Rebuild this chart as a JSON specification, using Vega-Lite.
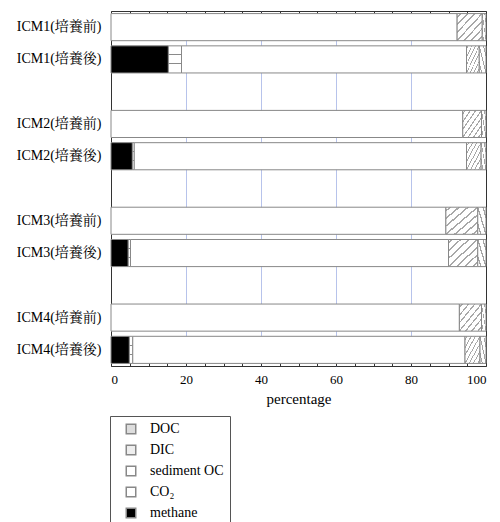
{
  "$schema": "https://vega.github.io/schema/vega-lite/v6.json",
  "width": 375,
  "height": 355,
  "autosize": "none",
  "padding": {"left": 111, "top": 11, "right": 14, "bottom": 156},
  "background": "white",
  "config": {"font": "Liberation Serif, Times New Roman, DejaVu Serif, serif", "view": {"stroke": "#333", "strokeWidth": 1}},
  "data": {
    "values": [
      {"sample": "ICM1(培養前)", "comp": "sediment OC", "ord": 3, "value": 92.3},
      {"sample": "ICM1(培養前)", "comp": "DIC", "ord": 4, "value": 6.7},
      {"sample": "ICM1(培養前)", "comp": "DOC", "ord": 5, "value": 1.0},
      {"sample": "ICM1(培養後)", "comp": "methane", "ord": 1, "value": 15.3},
      {"sample": "ICM1(培養後)", "comp": "CO₂", "ord": 2, "value": 3.5},
      {"sample": "ICM1(培養後)", "comp": "sediment OC", "ord": 3, "value": 76.0},
      {"sample": "ICM1(培養後)", "comp": "DIC", "ord": 4, "value": 3.4},
      {"sample": "ICM1(培養後)", "comp": "DOC", "ord": 5, "value": 1.8},
      {"sample": "ICM2(培養前)", "comp": "sediment OC", "ord": 3, "value": 93.8},
      {"sample": "ICM2(培養前)", "comp": "DIC", "ord": 4, "value": 5.0},
      {"sample": "ICM2(培養前)", "comp": "DOC", "ord": 5, "value": 1.2},
      {"sample": "ICM2(培養後)", "comp": "methane", "ord": 1, "value": 5.7},
      {"sample": "ICM2(培養後)", "comp": "CO₂", "ord": 2, "value": 0.5},
      {"sample": "ICM2(培養後)", "comp": "sediment OC", "ord": 3, "value": 88.6},
      {"sample": "ICM2(培養後)", "comp": "DIC", "ord": 4, "value": 3.9},
      {"sample": "ICM2(培養後)", "comp": "DOC", "ord": 5, "value": 1.3},
      {"sample": "ICM3(培養前)", "comp": "sediment OC", "ord": 3, "value": 89.3},
      {"sample": "ICM3(培養前)", "comp": "DIC", "ord": 4, "value": 8.5},
      {"sample": "ICM3(培養前)", "comp": "DOC", "ord": 5, "value": 2.2},
      {"sample": "ICM3(培養後)", "comp": "methane", "ord": 1, "value": 4.6},
      {"sample": "ICM3(培養後)", "comp": "CO₂", "ord": 2, "value": 0.6},
      {"sample": "ICM3(培養後)", "comp": "sediment OC", "ord": 3, "value": 84.8},
      {"sample": "ICM3(培養後)", "comp": "DIC", "ord": 4, "value": 7.8},
      {"sample": "ICM3(培養後)", "comp": "DOC", "ord": 5, "value": 2.2},
      {"sample": "ICM4(培養前)", "comp": "sediment OC", "ord": 3, "value": 92.9},
      {"sample": "ICM4(培養前)", "comp": "DIC", "ord": 4, "value": 5.9},
      {"sample": "ICM4(培養前)", "comp": "DOC", "ord": 5, "value": 1.2},
      {"sample": "ICM4(培養後)", "comp": "methane", "ord": 1, "value": 4.9},
      {"sample": "ICM4(培養後)", "comp": "CO₂", "ord": 2, "value": 0.9},
      {"sample": "ICM4(培養後)", "comp": "sediment OC", "ord": 3, "value": 88.6},
      {"sample": "ICM4(培養後)", "comp": "DIC", "ord": 4, "value": 4.0},
      {"sample": "ICM4(培養後)", "comp": "DOC", "ord": 5, "value": 1.6}
    ]
  },
  "layer": [
    {
      "mark": {"type": "bar", "stroke": "#888", "strokeWidth": 1},
      "encoding": {
        "y": {
          "field": "sample",
          "type": "nominal",
          "scale": {
            "domain": ["ICM1(培養前)", "ICM1(培養後)", "gap1", "ICM2(培養前)", "ICM2(培養後)", "gap2", "ICM3(培養前)", "ICM3(培養後)", "gap3", "ICM4(培養前)", "ICM4(培養後)"],
            "paddingInner": 0.16,
            "paddingOuter": 0.08
          },
          "axis": {
            "title": null,
            "ticks": false,
            "domain": false,
            "labelFont": "Liberation Serif, Times New Roman, Noto Serif CJK JP, Noto Sans CJK JP, serif",
            "labelFontSize": 14,
            "labelColor": "black",
            "labelPadding": 10,
            "labelExpr": "indexof(datum.label, 'ICM') === 0 ? datum.label : ''"
          }
        },
        "x": {
          "field": "value",
          "type": "quantitative",
          "stack": "zero",
          "scale": {"domain": [0, 100], "nice": false},
          "axis": {
            "orient": "bottom",
            "values": [0, 5, 10, 15, 20, 25, 30, 35, 40, 45, 50, 55, 60, 65, 70, 75, 80, 85, 90, 95, 100],
            "labelExpr": "datum.value % 20 === 0 ? datum.label : ''",
            "tickSize": -4,
            "tickColor": "#333",
            "domain": false,
            "grid": false,
            "labelFontSize": 13,
            "labelColor": "black",
            "labelPadding": 11,
            "title": "percentage",
            "titleFontSize": 15,
            "titleFontWeight": "normal",
            "titleColor": "black",
            "titlePadding": 5
          }
        },
        "order": {"field": "ord", "type": "quantitative"},
        "fill": {
          "field": "comp",
          "type": "nominal",
          "scale": {
            "domain": ["DOC", "DIC", "sediment OC", "CO₂", "methane"],
            "range": ["#dddddd", "#eeeeee", "#ffffff", "#ffffff", "#000000"]
          },
          "condition": [
            {"test": "datum.comp === 'DIC'", "value": {"gradient": "linear", "x1": 0, "y1": 0, "x2": 1, "y2": 1, "stops": [
              {"offset": 0, "color": "#ffffff"},
              {"offset": 0.05, "color": "#ffffff"}, {"offset": 0.05, "color": "#a8a8a8"}, {"offset": 0.085, "color": "#a8a8a8"}, {"offset": 0.085, "color": "#ffffff"},
              {"offset": 0.19, "color": "#ffffff"}, {"offset": 0.19, "color": "#a8a8a8"}, {"offset": 0.225, "color": "#a8a8a8"}, {"offset": 0.225, "color": "#ffffff"},
              {"offset": 0.33, "color": "#ffffff"}, {"offset": 0.33, "color": "#a8a8a8"}, {"offset": 0.365, "color": "#a8a8a8"}, {"offset": 0.365, "color": "#ffffff"},
              {"offset": 0.48, "color": "#ffffff"}, {"offset": 0.48, "color": "#a8a8a8"}, {"offset": 0.515, "color": "#a8a8a8"}, {"offset": 0.515, "color": "#ffffff"},
              {"offset": 0.62, "color": "#ffffff"}, {"offset": 0.62, "color": "#a8a8a8"}, {"offset": 0.655, "color": "#a8a8a8"}, {"offset": 0.655, "color": "#ffffff"},
              {"offset": 0.76, "color": "#ffffff"}, {"offset": 0.76, "color": "#a8a8a8"}, {"offset": 0.795, "color": "#a8a8a8"}, {"offset": 0.795, "color": "#ffffff"},
              {"offset": 0.90, "color": "#ffffff"}, {"offset": 0.90, "color": "#a8a8a8"}, {"offset": 0.935, "color": "#a8a8a8"}, {"offset": 0.935, "color": "#ffffff"},
              {"offset": 1, "color": "#ffffff"}
            ]}},
            {"test": "datum.comp === 'DOC'", "value": {"gradient": "linear", "x1": 0, "y1": 1, "x2": 1, "y2": 0, "stops": [
              {"offset": 0, "color": "#ffffff"},
              {"offset": 0.15, "color": "#ffffff"}, {"offset": 0.15, "color": "#a5a5a5"}, {"offset": 0.23, "color": "#a5a5a5"}, {"offset": 0.23, "color": "#ffffff"},
              {"offset": 0.46, "color": "#ffffff"}, {"offset": 0.46, "color": "#a5a5a5"}, {"offset": 0.54, "color": "#a5a5a5"}, {"offset": 0.54, "color": "#ffffff"},
              {"offset": 0.77, "color": "#ffffff"}, {"offset": 0.77, "color": "#a5a5a5"}, {"offset": 0.85, "color": "#a5a5a5"}, {"offset": 0.85, "color": "#ffffff"},
              {"offset": 1, "color": "#ffffff"}
            ]}},
            {"test": "datum.comp === 'CO₂'", "value": {"gradient": "linear", "x1": 0, "y1": 0, "x2": 0, "y2": 1, "stops": [
              {"offset": 0, "color": "#ffffff"},
              {"offset": 0.31, "color": "#ffffff"}, {"offset": 0.31, "color": "#8a8a8a"}, {"offset": 0.35, "color": "#8a8a8a"}, {"offset": 0.35, "color": "#ffffff"},
              {"offset": 0.64, "color": "#ffffff"}, {"offset": 0.64, "color": "#8a8a8a"}, {"offset": 0.68, "color": "#8a8a8a"}, {"offset": 0.68, "color": "#ffffff"},
              {"offset": 1, "color": "#ffffff"}
            ]}}
          ],
          "legend": {
            "orient": "none",
            "legendX": -1,
            "legendY": 405,
            "title": null,
            "strokeColor": "#555",
            "fillColor": "white",
            "padding": 6,
            "symbolType": "square",
            "symbolSize": 90,
            "symbolOffset": 8,
            "symbolOpacity": 1,
            "labelFont": "Liberation Serif, Times New Roman, DejaVu Serif, serif",
            "labelFontSize": 14,
            "labelColor": "black",
            "labelOffset": 12,
            "rowPadding": 5,
            "labelExpr": "datum.label + '\u2003\u2003'",
            "encode": {
              "symbols": {
                "fill": {
                  "condition": [
                    {"test": "datum.value === 'DIC'", "value": {"gradient": "linear", "x1": 0, "y1": 0, "x2": 1, "y2": 1, "stops": [
                      {"offset": 0, "color": "#ffffff"}, {"offset": 0.44, "color": "#ffffff"}, {"offset": 0.44, "color": "#999999"}, {"offset": 0.56, "color": "#999999"}, {"offset": 0.56, "color": "#ffffff"}, {"offset": 1, "color": "#ffffff"}
                    ]}},
                    {"test": "datum.value === 'DOC'", "value": {"gradient": "linear", "x1": 0, "y1": 1, "x2": 1, "y2": 0, "stops": [
                      {"offset": 0, "color": "#ffffff"}, {"offset": 0.42, "color": "#ffffff"}, {"offset": 0.42, "color": "#aaaaaa"}, {"offset": 0.58, "color": "#aaaaaa"}, {"offset": 0.58, "color": "#ffffff"}, {"offset": 1, "color": "#ffffff"}
                    ]}},
                    {"test": "datum.value === 'CO₂'", "value": {"gradient": "linear", "x1": 0, "y1": 0, "x2": 0, "y2": 1, "stops": [
                      {"offset": 0, "color": "#ffffff"}, {"offset": 0.45, "color": "#ffffff"}, {"offset": 0.45, "color": "#888888"}, {"offset": 0.55, "color": "#888888"}, {"offset": 0.55, "color": "#ffffff"}, {"offset": 1, "color": "#ffffff"}
                    ]}},
                    {"test": "datum.value === 'methane'", "value": "#000000"}
                  ],
                  "value": "#ffffff"
                },
                "stroke": {"value": "#777777"},
                "strokeWidth": {"value": 1}
              }
            }
          }
        }
      }
    },
    {
      "mark": {"type": "rule", "opacity": 0},
      "encoding": {
        "y": {"field": "sample", "type": "nominal"},
        "x": {
          "field": "value",
          "type": "quantitative",
          "axis": {
            "orient": "top",
            "values": [0, 5, 10, 15, 20, 25, 30, 35, 40, 45, 50, 55, 60, 65, 70, 75, 80, 85, 90, 95, 100],
            "labels": false,
            "tickSize": -4,
            "tickColor": "#333",
            "domain": false,
            "title": null,
            "grid": true,
            "gridColor": "#6f86d6",
            "gridDash": [1, 1],
            "gridWidth": 1,
            "gridOpacity": {"condition": {"test": "datum.value % 20 === 0 && datum.value > 0 && datum.value < 100", "value": 1}, "value": 0}
          }
        }
      }
    }
  ],
  "resolve": {"axis": {"x": "independent"}}
}
